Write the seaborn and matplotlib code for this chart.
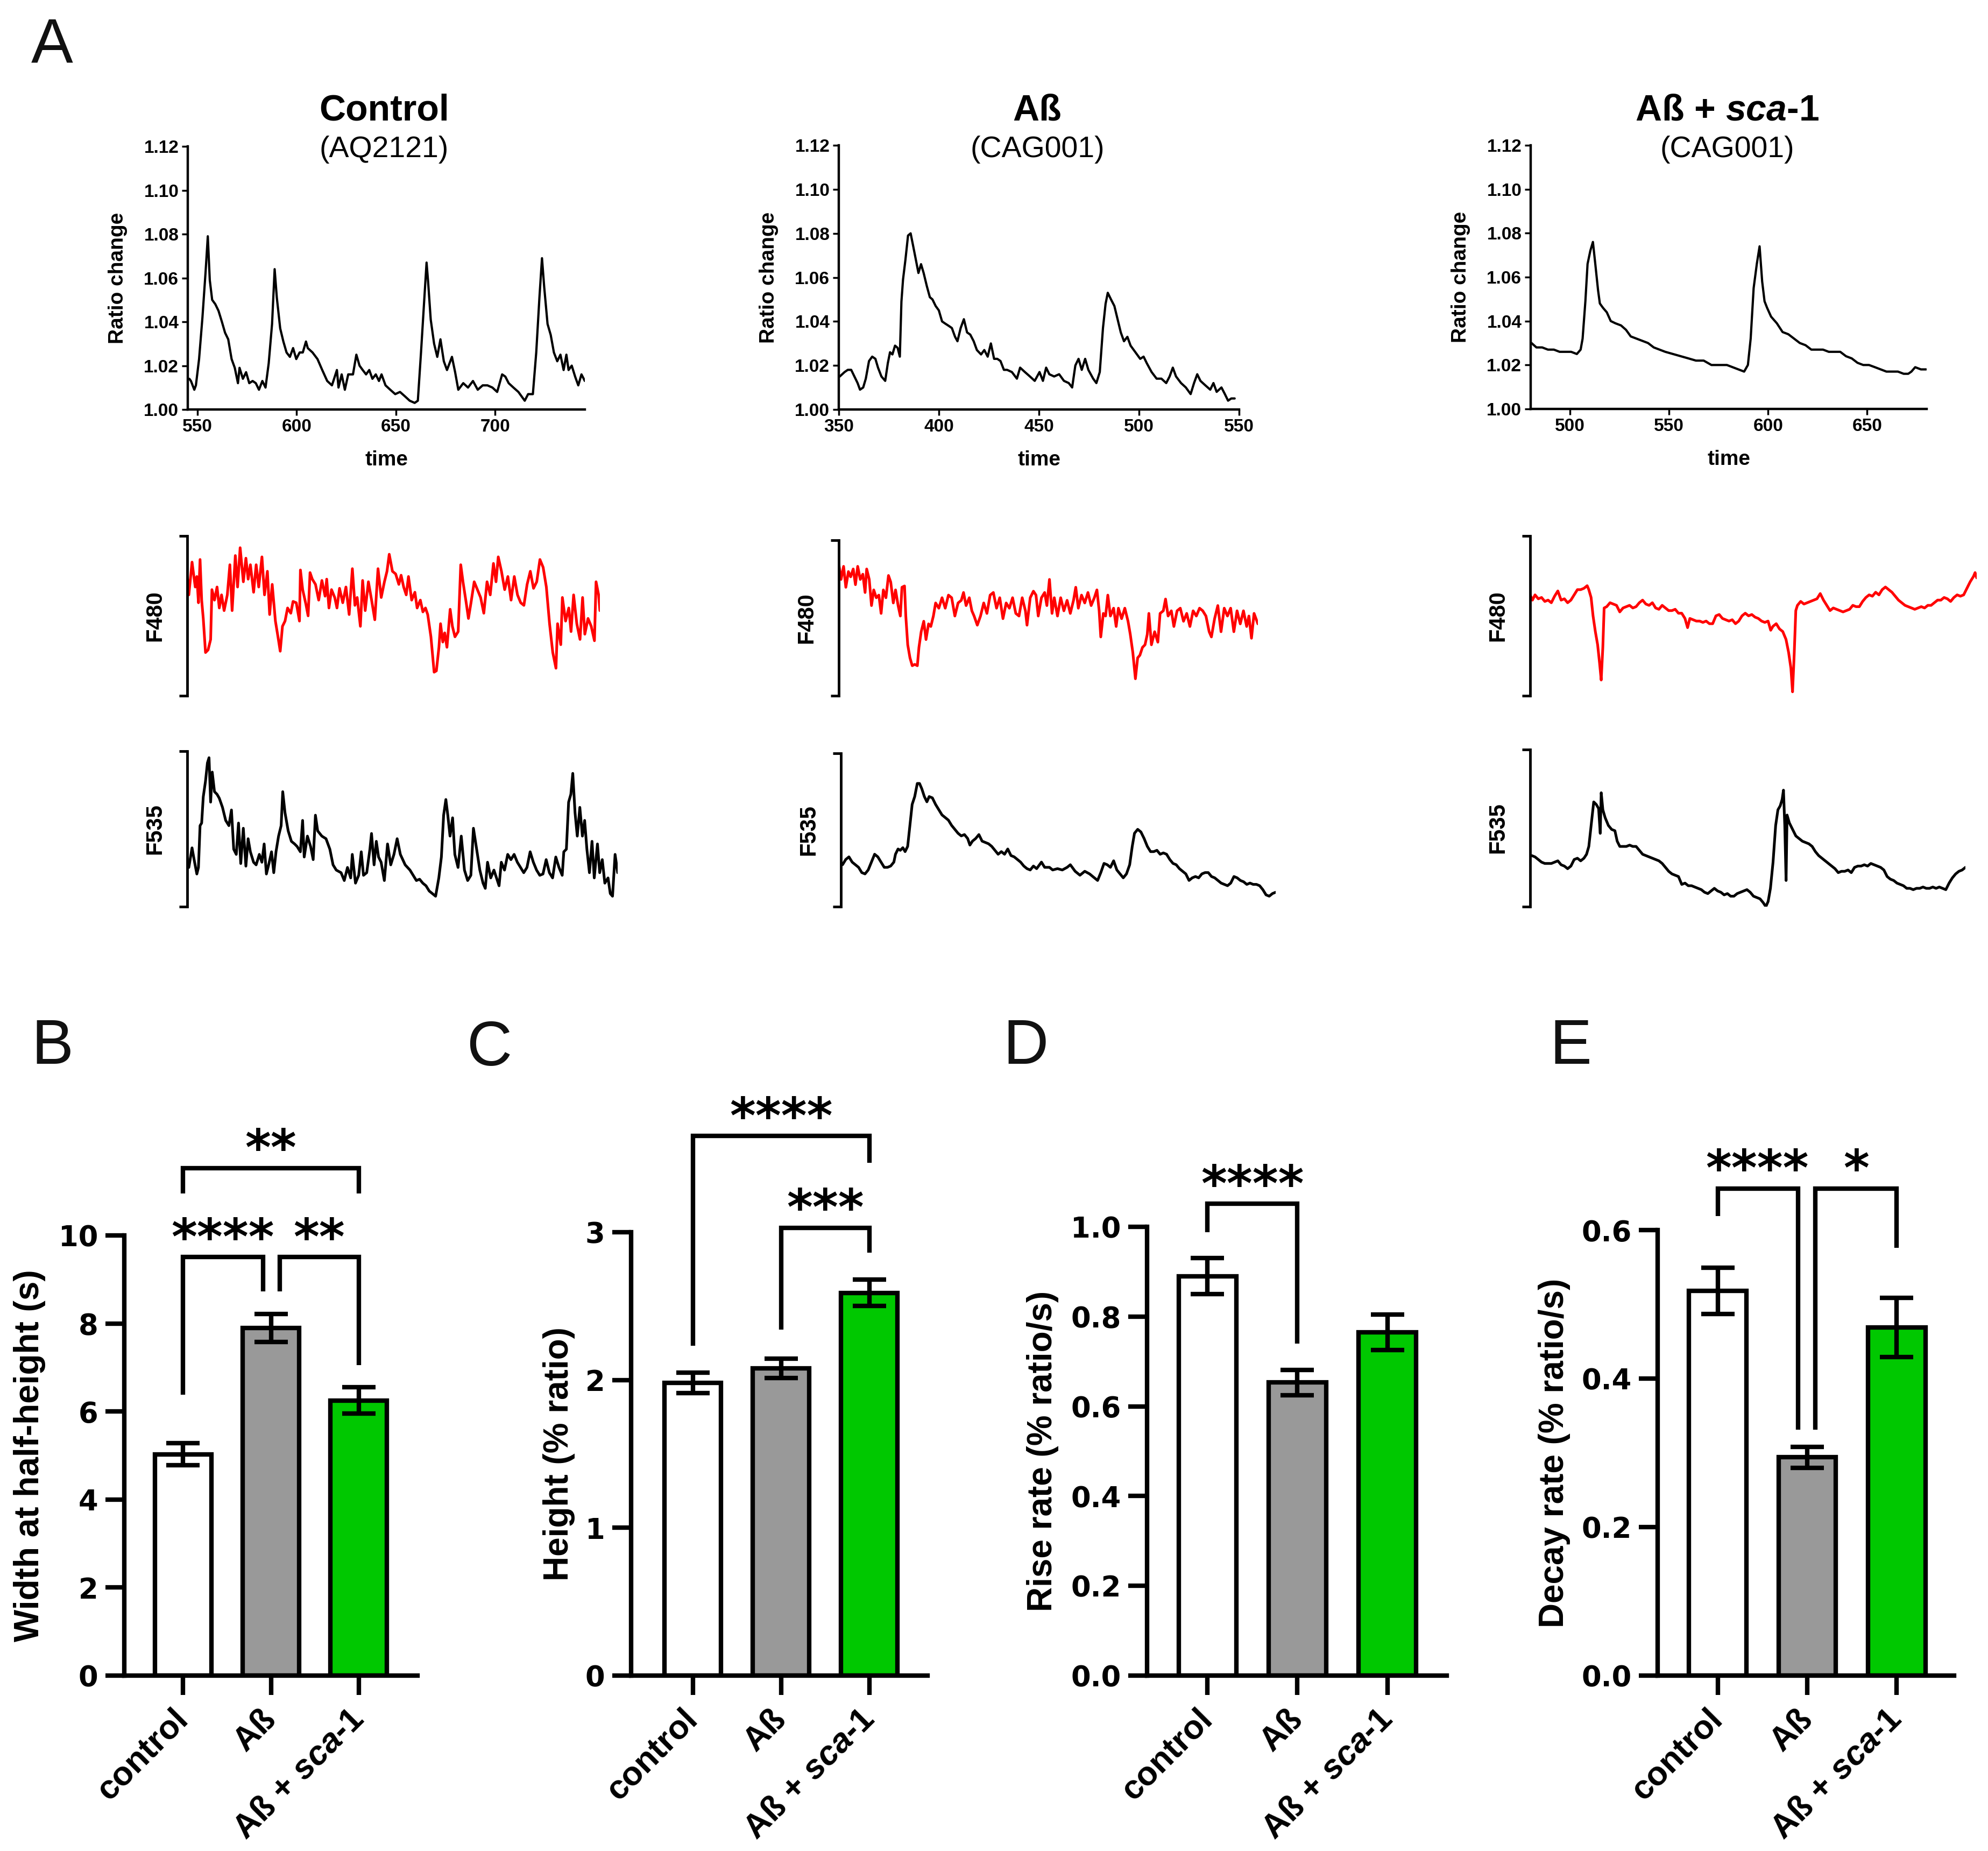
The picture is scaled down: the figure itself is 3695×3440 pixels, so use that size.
import numpy as np
import pandas as pd
import matplotlib
matplotlib.use("Agg")
import matplotlib.pyplot as plt
import seaborn as sns

# ---------------------------------------------------------------- data
# Panel A, row 1: FRET ratio traces (time, ratio)
ctrl_ratio = [(545.9, 1.014), (546.7, 1.013), (548.4, 1.009), (549.2, 1.011), (550.8, 1.023), (552.5, 1.042),
              (554.1, 1.063), (555.2, 1.079), (556.2, 1.059), (557.4, 1.050), (559.0, 1.048), (560.6, 1.045),
              (562.3, 1.040), (563.9, 1.035), (565.5, 1.032), (567.2, 1.023), (568.8, 1.019), (570.4, 1.012),
              (571.2, 1.019), (572.9, 1.014), (574.5, 1.017), (576.1, 1.012), (577.8, 1.013), (579.4, 1.012),
              (581.0, 1.009), (582.7, 1.013), (584.3, 1.010), (585.9, 1.021), (587.6, 1.039), (588.9, 1.064),
              (590.0, 1.051), (591.7, 1.037), (593.3, 1.031), (594.9, 1.026), (596.6, 1.024), (598.2, 1.028),
              (599.8, 1.023), (601.5, 1.026), (603.1, 1.026), (604.7, 1.031), (605.6, 1.028), (608.0, 1.026),
              (610.5, 1.023), (612.9, 1.018), (615.4, 1.013), (617.8, 1.011), (620.3, 1.018), (621.1, 1.010),
              (622.7, 1.016), (624.3, 1.009), (626.0, 1.016), (628.4, 1.016), (630.1, 1.025), (631.7, 1.020),
              (633.3, 1.018), (635.0, 1.016), (636.6, 1.018), (638.2, 1.014), (639.9, 1.016), (641.5, 1.013),
              (642.8, 1.016), (644.8, 1.011), (647.2, 1.009), (649.7, 1.007), (652.1, 1.008), (654.6, 1.006),
              (657.0, 1.004), (659.5, 1.003), (661.1, 1.004), (662.7, 1.026), (664.4, 1.051), (665.5, 1.067),
              (666.3, 1.058), (667.6, 1.041), (669.3, 1.030), (670.9, 1.024), (672.5, 1.032), (674.2, 1.022),
              (675.8, 1.018), (678.3, 1.024), (679.9, 1.017), (681.5, 1.009), (684.0, 1.012), (686.4, 1.010),
              (688.9, 1.013), (691.3, 1.009), (693.8, 1.011), (696.2, 1.011), (698.7, 1.010), (701.1, 1.008),
              (703.6, 1.016), (705.2, 1.015), (706.9, 1.012), (709.3, 1.010), (711.8, 1.008), (713.4, 1.006),
              (715.0, 1.004), (716.7, 1.007), (719.1, 1.007), (720.8, 1.026), (722.4, 1.051), (723.7, 1.069),
              (724.8, 1.056), (726.5, 1.039), (728.1, 1.034), (729.7, 1.026), (731.4, 1.022), (733.0, 1.025),
              (734.6, 1.018), (736.0, 1.025), (737.1, 1.018), (738.7, 1.020), (740.4, 1.015), (742.0, 1.011),
              (743.6, 1.016), (745.3, 1.013)]

ab_ratio = [(350.5, 1.015), (352.9, 1.017), (354.5, 1.018), (356.2, 1.018), (357.8, 1.015), (359.4, 1.012),
            (360.6, 1.009), (362.2, 1.010), (363.5, 1.014), (365.1, 1.022), (366.7, 1.024), (368.3, 1.023),
            (369.6, 1.019), (371.3, 1.015), (373.2, 1.013), (374.5, 1.021), (375.6, 1.026), (376.8, 1.025),
            (378.1, 1.029), (379.4, 1.028), (380.5, 1.024), (381.3, 1.049), (382.1, 1.059), (383.3, 1.068),
            (384.6, 1.079), (385.9, 1.080), (387.0, 1.075), (388.3, 1.069), (389.8, 1.062), (391.1, 1.066),
            (392.4, 1.062), (394.0, 1.056), (395.5, 1.051), (396.8, 1.050), (398.4, 1.047), (400.0, 1.045),
            (401.6, 1.040), (403.2, 1.039), (404.9, 1.038), (406.5, 1.037), (408.1, 1.033), (409.3, 1.031),
            (410.9, 1.037), (412.5, 1.041), (414.1, 1.035), (415.7, 1.034), (417.4, 1.031), (419.0, 1.027),
            (421.1, 1.025), (422.7, 1.027), (424.4, 1.024), (426.0, 1.030), (427.6, 1.023), (429.2, 1.023),
            (430.8, 1.022), (432.5, 1.018), (434.1, 1.018), (436.5, 1.017), (439.0, 1.014), (440.6, 1.019),
            (443.0, 1.017), (445.5, 1.015), (447.9, 1.013), (450.3, 1.017), (452.0, 1.013), (453.6, 1.019),
            (455.2, 1.016), (457.6, 1.015), (460.1, 1.016), (462.5, 1.013), (464.9, 1.012), (466.6, 1.010),
            (468.2, 1.020), (469.8, 1.023), (471.4, 1.018), (473.1, 1.023), (474.7, 1.018), (477.1, 1.014),
            (478.7, 1.012), (480.4, 1.017), (482.0, 1.037), (483.3, 1.048), (484.4, 1.053), (486.0, 1.050),
            (487.7, 1.047), (489.3, 1.041), (490.9, 1.035), (492.5, 1.031), (494.2, 1.033), (495.8, 1.029),
            (498.2, 1.026), (500.6, 1.023), (502.3, 1.024), (503.9, 1.021), (506.3, 1.017), (508.8, 1.014),
            (511.2, 1.014), (513.6, 1.012), (515.3, 1.015), (516.9, 1.019), (518.5, 1.015), (521.0, 1.012),
            (523.4, 1.010), (525.8, 1.007), (527.5, 1.012), (529.1, 1.016), (530.7, 1.013), (533.1, 1.011),
            (535.6, 1.009), (537.2, 1.012), (538.8, 1.008), (541.2, 1.010), (542.9, 1.007), (544.5, 1.004),
            (546.1, 1.005), (547.8, 1.005)]

sca_ratio = [(480.6, 1.030), (483.1, 1.028), (486.0, 1.028), (488.9, 1.027), (491.9, 1.027), (494.8, 1.026),
             (497.7, 1.026), (500.6, 1.026), (503.5, 1.025), (505.4, 1.027), (506.4, 1.032), (507.8, 1.049),
             (508.9, 1.066), (510.3, 1.072), (511.6, 1.076), (512.8, 1.066), (514.2, 1.054), (515.1, 1.048),
             (516.7, 1.046), (518.6, 1.044), (520.6, 1.040), (522.9, 1.039), (525.8, 1.038), (528.3, 1.036),
             (530.7, 1.033), (533.6, 1.032), (536.5, 1.031), (539.4, 1.030), (542.3, 1.028), (545.2, 1.027),
             (548.1, 1.026), (552.0, 1.025), (555.9, 1.024), (559.8, 1.023), (563.6, 1.022), (567.5, 1.022),
             (571.4, 1.020), (575.3, 1.020), (579.2, 1.020), (582.1, 1.019), (585.0, 1.018), (587.9, 1.017),
             (589.8, 1.020), (591.2, 1.032), (592.7, 1.055), (594.3, 1.066), (595.7, 1.074), (597.0, 1.058),
             (598.2, 1.049), (599.5, 1.046), (601.5, 1.042), (604.4, 1.039), (607.3, 1.035), (610.2, 1.034),
             (613.1, 1.032), (616.0, 1.030), (618.9, 1.029), (621.8, 1.027), (624.8, 1.027), (627.7, 1.027),
             (630.6, 1.026), (633.5, 1.026), (636.4, 1.026), (639.3, 1.024), (642.2, 1.023), (645.1, 1.021),
             (648.0, 1.020), (650.9, 1.020), (653.9, 1.019), (656.8, 1.018), (659.7, 1.017), (662.6, 1.017),
             (665.5, 1.017), (668.4, 1.016), (670.7, 1.016), (672.3, 1.017), (674.2, 1.019), (677.1, 1.018),
             (679.7, 1.018)]

# Panel A, rows 2-3: raw channel traces (sample position, depth below panel top in a.u.)
f480_ctrl = [(165, 245), (170, 320), (180, 195), (190, 290), (195, 250), (200, 350), (205, 185), (210, 340),
             (215, 410), (222, 540), (230, 530), (238, 490), (242, 300), (250, 340), (258, 290), (265, 370),
             (272, 320), (280, 380), (290, 320), (298, 205), (305, 380), (315, 170), (322, 290), (330, 140),
             (340, 270), (348, 180), (355, 260), (362, 205), (372, 310), (380, 205), (388, 290), (398, 175),
             (406, 320), (415, 230), (422, 395), (430, 280), (440, 420), (448, 480), (455, 535), (462, 440),
             (470, 420), (478, 370), (488, 390), (495, 345), (505, 350), (515, 420), (518, 225), (525, 300),
             (535, 355), (542, 400), (548, 235), (555, 260), (565, 280), (575, 340), (585, 265), (595, 325),
             (600, 260), (607, 370), (615, 300), (625, 330), (632, 370), (640, 295), (650, 350), (660, 290),
             (670, 395), (680, 220), (688, 360), (695, 330), (705, 440), (712, 265), (720, 380), (730, 270),
             (740, 340), (750, 415), (760, 220), (770, 330), (780, 270), (788, 230), (795, 165), (805, 230),
             (815, 240), (825, 280), (832, 245), (840, 290), (848, 320), (855, 250), (865, 340), (875, 310),
             (882, 370), (892, 340), (900, 385), (908, 370), (915, 395), (925, 480), (935, 615), (942, 610),
             (950, 520), (955, 430), (962, 500), (968, 465), (975, 520), (985, 375), (992, 440), (1000, 480),
             (1010, 460), (1018, 205), (1025, 270), (1035, 350), (1042, 410), (1050, 350), (1060, 270),
             (1070, 300), (1080, 330), (1090, 390), (1100, 270), (1110, 320), (1120, 200), (1128, 270),
             (1135, 175), (1145, 230), (1155, 300), (1165, 250), (1175, 340), (1185, 250), (1195, 320),
             (1205, 350), (1215, 360), (1225, 280), (1235, 230), (1245, 295), (1255, 270), (1265, 185),
             (1275, 215), (1285, 290), (1295, 430), (1305, 540), (1315, 600), (1320, 430), (1330, 510),
             (1335, 330), (1345, 420), (1355, 370), (1362, 460), (1370, 320), (1380, 430), (1390, 490),
             (1398, 330), (1405, 470), (1415, 410), (1425, 440), (1435, 495), (1440, 270), (1448, 320),
             (1452, 380)]

f535_ctrl = [(170, 1360), (180, 1285), (188, 1340), (195, 1385), (200, 1360), (205, 1200), (210, 1190),
             (215, 1090), (222, 1030), (228, 960), (233, 940), (238, 1110), (243, 995), (250, 1070), (258, 1080),
             (265, 1095), (275, 1130), (285, 1180), (295, 1200), (303, 1140), (310, 1290), (318, 1310),
             (325, 1190), (332, 1345), (340, 1210), (348, 1355), (355, 1250), (362, 1300), (372, 1340),
             (380, 1350), (390, 1310), (398, 1340), (405, 1270), (412, 1385), (420, 1345), (428, 1300),
             (435, 1380), (442, 1300), (450, 1240), (458, 1200), (463, 1070), (470, 1150), (480, 1220),
             (490, 1260), (500, 1270), (508, 1280), (518, 1300), (525, 1180), (530, 1320), (540, 1240),
             (550, 1280), (558, 1330), (565, 1160), (572, 1220), (585, 1240), (598, 1250), (610, 1290),
             (620, 1350), (630, 1370), (645, 1380), (655, 1410), (665, 1360), (675, 1400), (680, 1310),
             (690, 1420), (700, 1390), (708, 1300), (715, 1390), (725, 1380), (735, 1290), (740, 1230),
             (748, 1350), (755, 1260), (762, 1320), (770, 1340), (780, 1410), (790, 1270), (800, 1350),
             (810, 1310), (820, 1250), (830, 1310), (845, 1350), (860, 1370), (870, 1390), (880, 1410),
             (890, 1405), (900, 1420), (910, 1430), (920, 1450), (930, 1460), (940, 1470), (950, 1400),
             (958, 1320), (965, 1160), (972, 1100), (978, 1160), (985, 1240), (993, 1170), (1000, 1310),
             (1010, 1360), (1020, 1240), (1030, 1370), (1040, 1410), (1050, 1390), (1058, 1210), (1068, 1290),
             (1078, 1370), (1088, 1420), (1095, 1440), (1102, 1340), (1112, 1400), (1122, 1370), (1130, 1400),
             (1138, 1430), (1145, 1340), (1155, 1370), (1165, 1310), (1175, 1330), (1185, 1310), (1195, 1340),
             (1205, 1360), (1215, 1380), (1225, 1360), (1235, 1300), (1245, 1340), (1255, 1370), (1265, 1390),
             (1275, 1385), (1285, 1330), (1295, 1380), (1305, 1400), (1315, 1320), (1325, 1360), (1335, 1390),
             (1340, 1300), (1348, 1290), (1355, 1110), (1362, 1080), (1368, 1000), (1375, 1150), (1382, 1240),
             (1390, 1130), (1398, 1240), (1405, 1180), (1412, 1290), (1420, 1380), (1428, 1260), (1435, 1400),
             (1445, 1270), (1452, 1380), (1460, 1330), (1468, 1420), (1478, 1400), (1485, 1460), (1492, 1470),
             (1500, 1310), (1508, 1380)]

f480_ab = [(133, 200), (140, 260), (148, 210), (155, 290), (163, 230), (170, 250), (178, 220), (185, 280),
           (192, 210), (200, 260), (208, 240), (215, 310), (220, 220), (228, 260), (235, 360), (242, 300),
           (250, 330), (258, 320), (265, 390), (272, 300), (280, 330), (288, 245), (295, 270), (303, 350),
           (310, 300), (318, 360), (325, 400), (330, 290), (338, 285), (342, 400), (348, 510), (355, 560),
           (362, 590), (370, 585), (378, 590), (383, 520), (390, 460), (398, 420), (405, 490), (413, 430),
           (420, 440), (428, 400), (435, 350), (445, 370), (455, 330), (465, 370), (475, 320), (485, 330),
           (495, 400), (505, 350), (515, 340), (522, 310), (530, 360), (540, 330), (548, 380), (555, 400),
           (565, 435), (575, 400), (585, 350), (595, 390), (605, 320), (615, 310), (625, 370), (635, 330),
           (645, 410), (655, 350), (665, 370), (675, 330), (685, 390), (695, 400), (705, 330), (715, 380),
           (720, 435), (730, 330), (740, 305), (748, 320), (755, 400), (765, 330), (775, 310), (782, 360),
           (790, 260), (798, 390), (805, 330), (815, 400), (825, 330), (835, 380), (845, 340), (855, 390),
           (865, 340), (872, 290), (880, 370), (890, 320), (900, 350), (910, 310), (920, 360), (930, 330),
           (938, 300), (945, 380), (950, 480), (958, 390), (965, 400), (972, 320), (980, 400), (990, 370),
           (998, 440), (1005, 370), (1015, 410), (1025, 370), (1035, 420), (1042, 470), (1050, 540),
           (1058, 640), (1065, 560), (1072, 550), (1080, 520), (1088, 510), (1095, 470), (1100, 390),
           (1108, 510), (1118, 460), (1128, 500), (1135, 390), (1145, 380), (1152, 335), (1160, 400),
           (1170, 380), (1178, 440), (1188, 380), (1198, 370), (1208, 420), (1218, 390), (1228, 440),
           (1238, 380), (1248, 400), (1258, 370), (1268, 380), (1278, 400), (1288, 460), (1295, 480),
           (1305, 410), (1315, 360), (1325, 460), (1335, 370), (1345, 400), (1355, 370), (1365, 460),
           (1375, 380), (1385, 430), (1395, 380), (1405, 440), (1412, 400), (1420, 485), (1428, 390),
           (1440, 430)]

f535_ab = [(145, 1350), (155, 1330), (165, 1320), (175, 1340), (185, 1350), (195, 1360), (205, 1380),
           (215, 1385), (225, 1370), (235, 1340), (245, 1310), (255, 1320), (265, 1340), (275, 1360),
           (285, 1360), (295, 1355), (305, 1340), (310, 1310), (318, 1290), (325, 1295), (333, 1285),
           (340, 1300), (348, 1280), (355, 1200), (362, 1120), (370, 1090), (378, 1040), (385, 1040),
           (392, 1060), (400, 1090), (408, 1110), (415, 1090), (425, 1095), (435, 1120), (445, 1140),
           (455, 1160), (465, 1170), (475, 1180), (485, 1200), (495, 1215), (505, 1230), (515, 1240),
           (525, 1235), (535, 1250), (542, 1275), (550, 1260), (560, 1250), (570, 1235), (580, 1260),
           (590, 1265), (600, 1270), (610, 1280), (620, 1295), (630, 1310), (640, 1300), (650, 1310),
           (660, 1290), (670, 1315), (680, 1320), (690, 1330), (700, 1340), (710, 1355), (720, 1365),
           (730, 1370), (740, 1355), (750, 1365), (765, 1340), (775, 1360), (790, 1360), (800, 1370),
           (815, 1365), (830, 1370), (845, 1360), (855, 1350), (870, 1375), (885, 1390), (900, 1375),
           (915, 1385), (925, 1395), (940, 1410), (950, 1380), (960, 1345), (970, 1350), (980, 1360),
           (990, 1335), (1000, 1370), (1010, 1385), (1020, 1400), (1030, 1385), (1040, 1350), (1048, 1280),
           (1055, 1230), (1065, 1215), (1075, 1225), (1085, 1250), (1095, 1280), (1105, 1300), (1115, 1300),
           (1125, 1295), (1135, 1310), (1145, 1305), (1155, 1310), (1165, 1330), (1175, 1345), (1185, 1350),
           (1195, 1365), (1205, 1375), (1215, 1385), (1225, 1410), (1235, 1400), (1245, 1395), (1255, 1400),
           (1265, 1385), (1275, 1380), (1285, 1380), (1295, 1395), (1305, 1400), (1315, 1410), (1325, 1420),
           (1335, 1425), (1345, 1430), (1355, 1420), (1365, 1395), (1375, 1400), (1385, 1410), (1395, 1415),
           (1405, 1425), (1415, 1420), (1425, 1425), (1435, 1425), (1445, 1430), (1455, 1445), (1465, 1465),
           (1475, 1470), (1485, 1460), (1495, 1455)]

f480_sca = [(155, 320), (162, 340), (170, 320), (180, 335), (190, 330), (200, 345), (210, 340), (220, 350),
            (230, 325), (240, 305), (250, 340), (260, 335), (270, 350), (280, 340), (290, 320), (300, 300),
            (310, 300), (320, 295), (330, 285), (335, 300), (342, 330), (348, 400), (355, 460), (362, 510),
            (368, 580), (373, 645), (378, 520), (382, 370), (390, 365), (400, 350), (410, 355), (420, 360),
            (430, 385), (440, 370), (450, 365), (460, 360), (470, 370), (480, 365), (490, 350), (500, 340),
            (510, 355), (520, 360), (530, 350), (540, 370), (550, 375), (560, 360), (570, 370), (580, 380),
            (590, 380), (600, 375), (610, 390), (620, 390), (630, 410), (638, 445), (645, 410), (655, 415),
            (665, 420), (675, 420), (685, 425), (695, 420), (705, 430), (715, 430), (725, 400), (735, 395),
            (745, 410), (755, 415), (765, 420), (775, 415), (785, 430), (795, 420), (805, 400), (815, 390),
            (825, 400), (835, 395), (845, 405), (855, 410), (865, 420), (875, 425), (885, 420), (893, 455),
            (900, 440), (910, 430), (920, 450), (930, 460), (940, 490), (948, 540), (955, 600), (960, 690),
            (965, 550), (970, 380), (975, 360), (985, 345), (995, 355), (1005, 350), (1015, 345), (1025, 340),
            (1035, 335), (1045, 315), (1055, 340), (1065, 360), (1075, 380), (1085, 370), (1095, 375),
            (1105, 380), (1115, 385), (1125, 380), (1135, 375), (1145, 360), (1155, 365), (1165, 365),
            (1175, 345), (1185, 330), (1195, 320), (1205, 325), (1215, 310), (1225, 320), (1235, 300),
            (1245, 290), (1255, 300), (1265, 310), (1275, 325), (1285, 340), (1295, 350), (1305, 360),
            (1315, 365), (1325, 370), (1335, 375), (1345, 370), (1355, 365), (1365, 370), (1375, 360),
            (1385, 360), (1395, 350), (1405, 340), (1415, 340), (1425, 330), (1435, 335), (1445, 345),
            (1455, 330), (1465, 320), (1475, 325), (1485, 320), (1495, 295), (1505, 270), (1515, 250),
            (1520, 235), (1525, 255)]

f535_sca = [(160, 1315), (170, 1320), (180, 1330), (190, 1340), (200, 1345), (210, 1345), (220, 1345),
            (230, 1340), (240, 1335), (250, 1350), (260, 1355), (270, 1365), (280, 1355), (290, 1330),
            (300, 1325), (310, 1335), (320, 1325), (328, 1310), (335, 1280), (342, 1200), (350, 1110),
            (358, 1120), (365, 1135), (370, 1230), (373, 1075), (378, 1140), (385, 1170), (395, 1200),
            (405, 1215), (415, 1220), (422, 1260), (430, 1280), (440, 1280), (450, 1280), (460, 1275),
            (470, 1280), (480, 1280), (490, 1295), (500, 1310), (510, 1315), (520, 1320), (530, 1325),
            (540, 1330), (550, 1335), (560, 1345), (570, 1360), (580, 1375), (590, 1385), (600, 1390),
            (610, 1395), (620, 1425), (630, 1420), (640, 1430), (650, 1430), (660, 1435), (670, 1440),
            (680, 1445), (690, 1455), (700, 1460), (710, 1450), (720, 1440), (730, 1450), (740, 1455),
            (750, 1465), (760, 1460), (770, 1470), (780, 1470), (790, 1460), (800, 1455), (810, 1450),
            (820, 1445), (830, 1455), (840, 1470), (850, 1475), (860, 1480), (870, 1495), (878, 1510),
            (885, 1490), (892, 1440), (900, 1340), (908, 1200), (915, 1140), (922, 1125), (928, 1100),
            (932, 1065), (936, 1200), (940, 1410), (943, 1160), (950, 1190), (960, 1215), (970, 1240),
            (980, 1250), (990, 1260), (1000, 1265), (1010, 1270), (1020, 1280), (1030, 1300), (1040, 1315),
            (1050, 1325), (1060, 1335), (1070, 1345), (1080, 1355), (1090, 1365), (1100, 1380), (1110, 1375),
            (1120, 1375), (1130, 1370), (1140, 1380), (1150, 1360), (1160, 1355), (1170, 1355), (1180, 1350),
            (1190, 1355), (1200, 1345), (1210, 1350), (1220, 1355), (1230, 1360), (1240, 1370), (1250, 1395),
            (1260, 1405), (1270, 1410), (1280, 1420), (1290, 1425), (1300, 1430), (1310, 1440), (1320, 1440),
            (1330, 1445), (1340, 1440), (1350, 1440), (1360, 1435), (1370, 1440), (1380, 1440), (1390, 1435),
            (1400, 1440), (1410, 1435), (1420, 1440), (1430, 1445), (1440, 1420), (1450, 1400), (1460, 1385),
            (1470, 1375), (1480, 1370), (1490, 1360)]

ratio_yticks = [1.00, 1.02, 1.04, 1.06, 1.08, 1.10, 1.12]

# Panels B-E: bar charts (mean, SEM)
groups = ["control", "Aß", "Aß + sca-1"]
group_labels = ["control", "Aß", r"Aß + $\mathit{sca}$-$\mathit{1}$"]
bar_colors = ["#FFFFFF", "#999999", "#00C800"]
width_mean = [5.03, 7.90, 6.25]
width_sem = [0.25, 0.32, 0.30]
height_mean = [1.98, 2.08, 2.59]
height_sem = [0.07, 0.065, 0.09]
rise_mean = [0.89, 0.653, 0.765]
rise_sem = [0.04, 0.028, 0.04]
decay_mean = [0.518, 0.294, 0.469]
decay_sem = [0.031, 0.014, 0.04]

# ---------------------------------------------------------------- style
sns.set_theme(style="ticks", rc={"axes.edgecolor": "black", "xtick.color": "black",
                                 "ytick.color": "black", "text.color": "black",
                                 "axes.labelcolor": "black"})
plt.rcParams["font.family"] = ["Liberation Sans", "DejaVu Sans"]
plt.rcParams["mathtext.fontset"] = "custom"
plt.rcParams["mathtext.it"] = "Liberation Sans:italic:bold"
plt.rcParams["mathtext.rm"] = "Liberation Sans:bold"
plt.rcParams["mathtext.bf"] = "Liberation Sans:bold"

W, H = 3695, 3440
DPI = 100
fig = plt.figure(figsize=(W / DPI, H / DPI), dpi=DPI)
fig.patch.set_facecolor("white")


def add_ax(left, top, right, bottom):
    return fig.add_axes([left / W, 1 - bottom / H, (right - left) / W, (bottom - top) / H])


def ftext(x, y, s, **kw):
    fig.text(x / W, 1 - y / H, s, **kw)


# panel letters
for letter, (lx, ly) in zip("ABCDE", [(58, 116), (58, 1977), (867, 1980), (1864, 1977), (2880, 1977)]):
    ftext(lx, ly, letter, fontsize=84, ha="left", va="baseline", color="#111111")

# titles over traces
titles = [("Control", "(AQ2121)", 714), ("Aß", "(CAG001)", 1928),
          (r"Aß + $\mathit{sca}$-$\mathit{1}$", "(CAG001)", 3210)]
for t, sub, cx in titles:
    ftext(cx, 205, t, fontsize=49, fontweight="bold", ha="center", va="center")
    ftext(cx, 278, sub, fontsize=40, ha="center", va="center")

# ---------------------------------------------------------------- ratio traces
ratio_panels = [
    (ctrl_ratio, (349, 272, 1087, 761), (545.1, 745.3), [550, 600, 650, 700]),
    (ab_ratio, (1559, 270, 2303, 761), (350, 550), [350, 400, 450, 500, 550]),
    (sca_ratio, (2845, 270, 3581, 760), (480.2, 680), [500, 550, 600, 650]),
]
for data, box, xlim, xt in ratio_panels:
    ax = add_ax(*box)
    w = box[2] - box[0]
    h = box[3] - box[1]
    df = pd.DataFrame(data, columns=["time", "ratio"])
    sns.lineplot(data=df, x="time", y="ratio", ax=ax, color="black", lw=3.0,
                 sort=False, estimator=None)
    ax.set_xlim(xlim)
    ax.set_ylim(1.0, 1.12)
    ax.set_yticks(ratio_yticks)
    ax.set_yticklabels([f"{v:.2f}" for v in ratio_yticks])
    ax.set_xticks(xt)
    ax.set_xticklabels([str(v) for v in xt])
    for s in ["top", "right"]:
        ax.spines[s].set_visible(False)
    for s in ["left", "bottom"]:
        ax.spines[s].set_linewidth(3.2)
    ax.tick_params(axis="both", direction="out", length=8, width=2.5, labelsize=24, pad=4)
    for lab in ax.get_xticklabels() + ax.get_yticklabels():
        lab.set_fontweight("bold")
    ax.set_ylabel("Ratio change", fontsize=28, fontweight="bold", va="center")
    ax.yaxis.set_label_coords(-130 / w, 0.5)
    ax.set_xlabel("time", fontsize=28, fontweight="bold", va="center")
    ax.xaxis.set_label_coords(0.5, -94 / h)
    ax.set_facecolor("none")

# ---------------------------------------------------------------- channel traces
f_panels = [
    (f480_ctrl, (348, 996, 1115, 1293), (165, 1452), (705, 95), "#FF0000", "F480"),
    (f535_ctrl, (348, 1396, 1148, 1685), (165, 1508), (1510, 915), "black", "F535"),
    (f480_ab, (1559, 1004, 2338, 1293), (133, 1440), (705, 110), "#FF0000", "F480"),
    (f535_ab, (1563, 1400, 2371, 1685), (140, 1495), (1510, 925), "black", "F535"),
    (f480_sca, (2844, 996, 3674, 1293), (155, 1525), (705, 95), "#FF0000", "F480"),
    (f535_sca, (2844, 1393, 3653, 1685), (155, 1490), (1510, 910), "black", "F535"),
]
for data, box, xlim, ylim, color, label in f_panels:
    ax = add_ax(*box)
    w = box[2] - box[0]
    df = pd.DataFrame(data, columns=["pos", "signal"])
    sns.lineplot(data=df, x="pos", y="signal", ax=ax, color=color, lw=3.6,
                 sort=False, estimator=None)
    ax.set_xlim(xlim)
    ax.set_ylim(ylim)
    ax.set_yticks(list(ylim))
    ax.set_yticklabels([])
    ax.set_xticks([])
    for s in ["top", "right", "bottom"]:
        ax.spines[s].set_visible(False)
    ax.spines["left"].set_linewidth(3.5)
    ax.tick_params(axis="y", direction="out", length=11, width=3.5)
    ax.set_xlabel("")
    ax.set_ylabel(label, fontsize=30, fontweight="bold", va="center")
    ax.yaxis.set_label_coords(-60 / w, 0.5)
    ax.set_facecolor("none")

# ---------------------------------------------------------------- bar charts
bar_panels = [
    dict(box=(231, 2296, 776, 3114), xlim=(-0.67, 2.67), ylim=(0, 10), yticks=[0, 2, 4, 6, 8, 10],
         fmt="{:.0f}", mean=width_mean, sem=width_sem, ylabel="Width at half-height (s)", lx=55,
         brackets=[(0, 0.91, 9.51, 6.38, 8.73), (1.10, 2.0, 9.51, 8.73, 7.05), (0, 2.0, 11.53, 10.95, 10.95)],
         stars=[("****", 0.45, 9.51), ("**", 1.55, 9.51), ("**", 1.0, 11.53)]),
    dict(box=(1173, 2290, 1724, 3114), xlim=(-0.70, 2.66), ylim=(0, 3), yticks=[0, 1, 2, 3],
         fmt="{:.0f}", mean=height_mean, sem=height_sem, ylabel="Height (% ratio)", lx=1039,
         brackets=[(0, 2.0, 3.65, 2.23, 3.47), (1.0, 2.0, 3.03, 2.34, 2.86)],
         stars=[("****", 1.0, 3.65), ("***", 1.5, 3.03)]),
    dict(box=(2132, 2280, 2689, 3114), xlim=(-0.67, 2.66), ylim=(0, 1.0),
         yticks=[0, 0.2, 0.4, 0.6, 0.8, 1.0], fmt="{:.1f}", mean=rise_mean, sem=rise_sem,
         ylabel="Rise rate (% ratio/s)", lx=1938,
         brackets=[(0, 1.0, 1.051, 0.988, 0.74)],
         stars=[("****", 0.5, 1.051)]),
    dict(box=(3081, 2286, 3632, 3114), xlim=(-0.67, 2.64), ylim=(0, 0.6),
         yticks=[0, 0.2, 0.4, 0.6], fmt="{:.1f}", mean=decay_mean, sem=decay_sem,
         ylabel="Decay rate (% ratio/s)", lx=2889,
         brackets=[(0, 0.90, 0.656, 0.619, 0.331), (1.09, 2.0, 0.656, 0.331, 0.576)],
         stars=[("****", 0.44, 0.656), ("*", 1.55, 0.656)]),
]
LW = 6
for p in bar_panels:
    box = p["box"]
    ax = add_ax(*box)
    w = box[2] - box[0]
    df = pd.DataFrame({"group": groups, "value": p["mean"]})
    sns.barplot(data=df, x="group", y="value", hue="group", palette=bar_colors, saturation=1,
                width=0.64, edgecolor="black", linewidth=LW, legend=False, ax=ax, zorder=2)
    ax.errorbar(range(3), p["mean"], yerr=p["sem"], fmt="none", ecolor="black",
                elinewidth=LW, capsize=22, capthick=LW, zorder=3)
    ax.set_xlim(p["xlim"])
    ax.set_ylim(p["ylim"])
    ax.set_yticks(p["yticks"])
    ax.set_yticklabels([p["fmt"].format(v) for v in p["yticks"]], fontsize=38,
                       fontweight="bold", family="DejaVu Sans")
    ax.set_xticks(range(3))
    ax.set_xticklabels(group_labels, rotation=45, ha="right", va="center",
                       rotation_mode="anchor", fontsize=45, fontweight="bold")
    for s in ["top", "right"]:
        ax.spines[s].set_visible(False)
    for s in ["left", "bottom"]:
        ax.spines[s].set_linewidth(LW)
    ax.tick_params(axis="y", direction="out", length=25, width=LW, pad=10)
    ax.tick_params(axis="x", direction="out", length=26, width=LW, pad=26)
    ax.set_xlabel("")
    ax.set_ylabel(p["ylabel"], fontsize=46, fontweight="bold", va="center")
    ax.yaxis.set_label_coords((p["lx"] - box[0]) / w, 0.5)
    for x0, x1, top, yl, yr in p["brackets"]:
        ax.plot([x0, x0, x1, x1], [yl, top, top, yr], color="black", lw=LW, clip_on=False,
                solid_joinstyle="miter", solid_capstyle="butt", zorder=4)
    for s, x, y in p["stars"]:
        ax.annotate(s, xy=(x, y), xytext=(0, 4), textcoords="offset points", ha="center",
                    va="baseline", fontsize=66, fontweight="bold", family="DejaVu Sans",
                    annotation_clip=False)
    ax.set_facecolor("none")

fig.savefig("out.png", dpi=DPI, facecolor="white")
